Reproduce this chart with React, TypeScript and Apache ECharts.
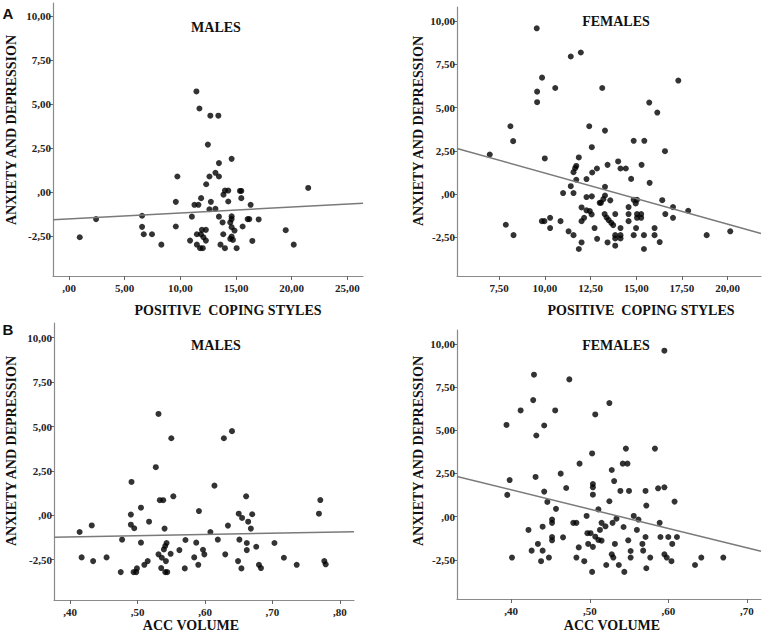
import React, { useEffect, useRef } from "react";
import * as echarts from "echarts";

// ---------- DATA ----------
const yTicks = [-2.5, 0, 2.5, 5, 7.5, 10];
const xTicksCopingMales = [0, 5, 10, 15, 20, 25];
const xTicksCopingFemales = [7.5, 10, 12.5, 15, 17.5, 20];
const xTicksAccMales = [0.4, 0.5, 0.6, 0.7, 0.8];
const xTicksAccFemales = [0.4, 0.5, 0.6, 0.7];

const panelTitles = ["MALES", "FEMALES", "MALES", "FEMALES"];
const xAxisNames = ["POSITIVE  COPING STYLES", "POSITIVE  COPING STYLES", "ACC VOLUME", "ACC VOLUME"];
const yAxisName = "ANXIETY AND DEPRESSION";

const copingMales: [number, number][] = [
  [0.96, -2.56], [2.43, -1.53], [6.56, -1.34], [6.56, -1.97], [6.71, -2.39], [7.45, -2.39],
  [8.29, -2.98], [9.59, -0.55], [9.59, -1.95], [9.73, 0.89], [10.87, -2.75], [11.03, -1.39],
  [11.26, -0.72], [11.62, -0.72], [11.44, 5.72], [11.71, 4.75], [11.48, -2.39], [11.84, -2.39],
  [11.48, -2.98], [11.77, -3.18], [12.01, -3.18], [11.86, -0.34], [11.93, -2.14], [12.29, -2.14],
  [12.07, -2.56], [12.29, -2.75], [12.32, 0.45], [12.47, 2.7], [12.61, 0.89], [12.61, -0.97],
  [12.69, 4.34], [12.74, -0.55], [13.15, 1.1], [13.15, -0.95], [13.46, 0.89], [13.41, 4.34],
  [13.46, 1.65], [13.46, -1.39], [13.6, -2.98], [13.79, -1.72], [13.87, -0.14], [13.85, -2.39],
  [14.0, 0.09], [14.3, 0.09], [14.0, -3.18], [14.3, -0.53], [14.48, -1.72], [14.6, 1.89],
  [14.6, -1.37], [14.6, -1.53], [14.6, -1.99], [14.6, -2.52], [14.48, -2.65], [14.72, -2.71],
  [14.86, -2.18], [15.05, -3.18], [15.35, 0.07], [15.47, 0.07], [15.47, -0.34], [15.59, -1.95],
  [16.04, -1.53], [16.19, -1.53], [16.31, -0.72], [16.46, -2.77], [17.03, -1.55], [19.46, -2.16],
  [20.18, -2.98], [21.48, 0.24],
];

const copingFemales: [number, number][] = [
  [9.56, 9.58], [11.97, 8.18], [11.42, 7.95], [9.85, 6.73], [9.58, 5.92], [10.57, 6.13],
  [13.14, 6.13], [17.3, 6.56], [9.58, 5.31], [15.71, 5.29], [16.15, 4.71], [8.12, 3.92],
  [12.43, 3.92], [13.29, 3.67], [8.27, 3.06], [14.86, 3.08], [15.44, 3.08], [12.57, 2.71],
  [16.57, 2.48], [6.99, 2.29], [10.0, 2.06], [11.86, 2.12],
  [11.72, 1.63], [11.66, 1.5], [11.57, 1.27], [12.85, 1.48], [12.59, 1.25], [13.43, 1.69],
  [14.01, 1.89], [14.14, 1.48], [14.43, 1.48], [15.29, 1.69], [11.72, 0.83], [12.28, 0.87],
  [14.72, 0.88], [15.73, 0.65], [11.42, 0.46], [13.29, 0.42], [11.0, 0.06], [11.57, 0.06],
  [12.28, -0.17], [12.57, -0.13], [13.29, -0.08], [13.2, -0.29], [13.07, -0.5], [13.0, -0.5],
  [13.58, -0.36], [14.86, -0.33], [15.04, -0.33], [14.97, -0.54], [16.42, -0.35], [12.01, -0.77],
  [12.28, -0.94], [12.46, -0.98], [14.58, -0.75], [17.01, -0.75], [17.84, -0.96], [12.56, -1.17],
  [13.27, -1.15], [13.38, -1.35], [13.49, -1.5], [13.63, -1.66], [13.74, -1.79], [13.85, -1.15],
  [14.58, -1.15], [15.04, -1.15], [15.27, -1.15], [15.04, -1.37], [15.27, -1.37], [16.59, -1.15],
  [17.01, -1.37], [10.29, -1.37], [9.84, -1.56], [9.98, -1.56], [10.86, -1.56], [12.01, -1.56],
  [12.15, -1.37], [14.58, -1.56], [7.87, -1.77], [10.29, -1.96], [12.72, -1.96], [14.14, -1.96],
  [14.99, -1.96], [16.0, -1.96], [11.3, -2.15], [8.29, -2.37], [11.57, -2.37], [13.85, -2.37],
  [14.14, -2.37], [13.85, -2.56], [14.14, -2.56], [14.86, -2.37], [15.42, -2.37], [16.0, -2.37],
  [18.85, -2.37], [20.14, -2.15], [12.86, -2.58], [12.01, -2.79], [13.43, -2.79], [16.28, -2.77],
  [13.85, -2.98], [11.86, -3.17], [15.42, -3.17],
];

const accMales: [number, number][] = [
  [0.531, 5.71], [0.55, 4.34], [0.628, 4.34], [0.64, 4.74], [0.527, 2.71], [0.491, 1.88], [0.614, 1.67],
  [0.661, 1.07], [0.553, 1.07], [0.533, 0.85], [0.538, 0.85], [0.771, 0.86], [0.505, 0.43],
  [0.591, 0.24], [0.49, 0.04], [0.65, 0.09], [0.67, 0.06], [0.655, -0.15], [0.769, 0.09],
  [0.517, -0.36], [0.664, -0.36], [0.432, -0.57], [0.49, -0.53], [0.495, -0.73], [0.54, -0.75],
  [0.634, -0.58], [0.668, -0.75], [0.414, -0.94], [0.608, -0.94], [0.477, -1.37], [0.505, -1.54],
  [0.543, -1.56], [0.541, -1.73], [0.539, -1.92], [0.571, -1.39], [0.587, -1.54], [0.619, -1.37],
  [0.651, -1.37], [0.662, -1.56], [0.703, -1.56], [0.676, -1.77], [0.562, -1.96], [0.597, -1.94],
  [0.599, -2.2], [0.662, -1.96], [0.531, -2.2], [0.536, -2.39], [0.549, -2.17], [0.542, -2.58],
  [0.63, -2.2], [0.417, -2.37], [0.454, -2.37], [0.584, -2.37], [0.717, -2.39], [0.434, -2.58],
  [0.515, -2.58], [0.649, -2.58], [0.777, -2.58], [0.779, -2.76], [0.51, -2.79], [0.59, -2.79],
  [0.68, -2.79], [0.683, -2.97], [0.736, -2.79], [0.535, -2.97], [0.57, -2.99], [0.654, -2.99],
  [0.499, -2.99], [0.475, -3.2], [0.494, -3.2], [0.498, -3.2], [0.541, -3.2], [0.544, -3.2],
];

const accFemales: [number, number][] = [
  [0.595, 9.61], [0.429, 8.22], [0.474, 7.95], [0.428, 6.75], [0.525, 6.58], [0.412, 6.15],
  [0.456, 6.15], [0.507, 5.92], [0.394, 5.31], [0.442, 5.28], [0.432, 4.7], [0.546, 3.94],
  [0.583, 3.94], [0.503, 3.66], [0.487, 3.07], [0.542, 3.07], [0.548, 3.07], [0.528, 2.7],
  [0.463, 2.49], [0.431, 2.3], [0.398, 2.12], [0.531, 2.06], [0.47, 1.66], [0.504, 1.89],
  [0.504, 1.7], [0.504, 1.27], [0.539, 1.49], [0.55, 1.49], [0.571, 1.49], [0.587, 1.64],
  [0.595, 1.7], [0.442, 1.45], [0.395, 1.26], [0.608, 0.87], [0.446, 0.85], [0.525, 0.89],
  [0.572, 0.64], [0.457, 0.45], [0.511, 0.42], [0.496, 0.04], [0.556, 0.04], [0.562, -0.17],
  [0.534, -0.12], [0.529, -0.36], [0.452, -0.17], [0.452, -0.36], [0.479, -0.36], [0.483, -0.36],
  [0.515, -0.36], [0.52, -0.56], [0.589, -0.36], [0.543, -0.6], [0.44, -0.58], [0.422, -0.77],
  [0.513, -0.77], [0.56, -0.77], [0.497, -0.96], [0.501, -0.96], [0.507, -1.16], [0.511, -1.35],
  [0.515, -1.39], [0.452, -1.18], [0.452, -1.37], [0.466, -1.2], [0.549, -1.37], [0.571, -1.18],
  [0.59, -1.18], [0.6, -1.18], [0.611, -1.18], [0.434, -1.58], [0.498, -1.58], [0.504, -1.75],
  [0.532, -1.58], [0.567, -1.58], [0.605, -1.58], [0.486, -1.78], [0.426, -1.97], [0.44, -1.97],
  [0.552, -1.99], [0.568, -1.97], [0.528, -2.18], [0.53, -2.37], [0.595, -2.18], [0.598, -2.37],
  [0.401, -2.37], [0.448, -2.37], [0.483, -2.37], [0.552, -2.37], [0.577, -2.37], [0.642, -2.37],
  [0.67, -2.37], [0.438, -2.58], [0.493, -2.58], [0.604, -2.58], [0.521, -2.8], [0.537, -2.8],
  [0.572, -2.99], [0.634, -2.8], [0.503, -3.2], [0.544, -3.2],
];

// fit lines (read at the x-axis extents)
const fitCopingMales: [number, number][] = [[-1.44, -1.57], [26.4, -0.63]];
const fitCopingFemales: [number, number][] = [[5.2, 2.64], [21.82, -2.27]];
const fitAccMales: [number, number][] = [[0.376, -1.24], [0.821, -0.92]];
const fitAccFemales: [number, number][] = [[0.331, 2.33], [0.718, -2.01]];

const xRanges: [number, number][] = [[-1.44, 26.4], [5.2, 21.82], [0.376, 0.821], [0.331, 0.718]];
const yRanges: [number, number][] = [[-4.76, 10.74], [-4.73, 10.81], [-4.77, 10.83], [-4.77, 10.81]];

// ---------- CHART ----------
const fmt = (v: number) => {
  let s = Number(v).toFixed(2).replace(".", ",");
  if (s.startsWith("0,")) s = s.slice(1);
  if (s.startsWith("-0,")) s = "-" + s.slice(2);
  return s;
};

const SERIF = "'Liberation Serif', 'Times New Roman', serif";

export default function App() {
  const ref = useRef<HTMLDivElement>(null);
  useEffect(() => {
    if (!ref.current) return;
    const chart = echarts.init(ref.current, null, { renderer: "svg" });

    const grids = [
      { left: 53, top: 3, width: 310, height: 273 },
      { left: 457, top: 7, width: 304, height: 269 },
      { left: 54, top: 323, width: 300, height: 277 },
      { left: 457, top: 330, width: 304, height: 269 },
    ];
    const xTickSets = [xTicksCopingMales, xTicksCopingFemales, xTicksAccMales, xTicksAccFemales];
    const scatterSets = [copingMales, copingFemales, accMales, accFemales];
    const fitSets = [fitCopingMales, fitCopingFemales, fitAccMales, fitAccFemales];

    const axisLine = { show: true, lineStyle: { color: "#8a8a8a", width: 1.2 } };
    const labelStyle = {
      fontFamily: SERIF,
      fontSize: 11,
      fontWeight: "bold" as const,
      color: "#222",
      formatter: (v: number) => fmt(v),
    };

    const xAxis = grids.map((_, i) => ({
      type: "value" as const,
      gridIndex: i,
      min: xRanges[i][0],
      max: xRanges[i][1],
      axisLine: { ...axisLine, onZero: false },
      axisTick: { show: true, length: 4, inside: false, customValues: xTickSets[i], lineStyle: { color: "#666" } },
      axisLabel: { ...labelStyle, margin: 6, customValues: xTickSets[i] },
      splitLine: { show: false },
    }));
    const yAxis = grids.map((_, i) => ({
      type: "value" as const,
      gridIndex: i,
      min: yRanges[i][0],
      max: yRanges[i][1],
      axisLine: { ...axisLine, onZero: false },
      axisTick: { show: true, length: 3, inside: false, customValues: yTicks, lineStyle: { color: "#666" } },
      axisLabel: { ...labelStyle, margin: 2, customValues: yTicks },
      splitLine: { show: false },
    }));

    const series: any[] = [];
    scatterSets.forEach((d, i) => {
      series.push({
        type: "scatter",
        xAxisIndex: i,
        yAxisIndex: i,
        data: d,
        symbolSize: 6,
        itemStyle: { color: "#000" },
        silent: true,
      });
      series.push({
        type: "line",
        xAxisIndex: i,
        yAxisIndex: i,
        data: fitSets[i],
        symbol: "none",
        lineStyle: { color: "#7a7a7a", width: 1.5 },
        silent: true,
      });
    });

    const txt = (text: string, x: number, y: number, size: number, rotate = 0, family = SERIF) => ({
      type: "text",
      x,
      y,
      rotation: rotate,
      style: {
        text,
        font: `bold ${size}px ${family}`,
        fill: "#111",
        textAlign: "center",
        textVerticalAlign: "middle",
        align: "center",
        verticalAlign: "middle",
      },
    });

    const titlePos = [[216, 27], [616, 21], [216, 345], [616, 345]];
    const xNamePos = [[228, 310], [641, 310], [191, 625], [612, 625]];
    const yNamePos = [[11, 130], [418, 131], [11, 451], [418, 451]];

    const graphic: any[] = [];
    for (let i = 0; i < 4; i++) {
      graphic.push(txt(panelTitles[i], titlePos[i][0], titlePos[i][1], 14));
      graphic.push(txt(xAxisNames[i], xNamePos[i][0], xNamePos[i][1], 14));
      graphic.push(txt(yAxisName, yNamePos[i][0], yNamePos[i][1], 14, Math.PI / 2));
    }
    graphic.push(txt("A", 8, 13, 15, 0, "'Liberation Sans', Arial, sans-serif"));
    graphic.push(txt("B", 8, 329, 15, 0, "'Liberation Sans', Arial, sans-serif"));

    chart.setOption({
      animation: false,
      backgroundColor: "#fff",
      grid: grids,
      xAxis,
      yAxis,
      series,
      graphic,
    });
    return () => chart.dispose();
  }, []);

  return (
    <div
      ref={ref}
      style={{ position: "fixed", left: 0, top: 0, width: 764, height: 632, background: "#fff" }}
    />
  );
}
